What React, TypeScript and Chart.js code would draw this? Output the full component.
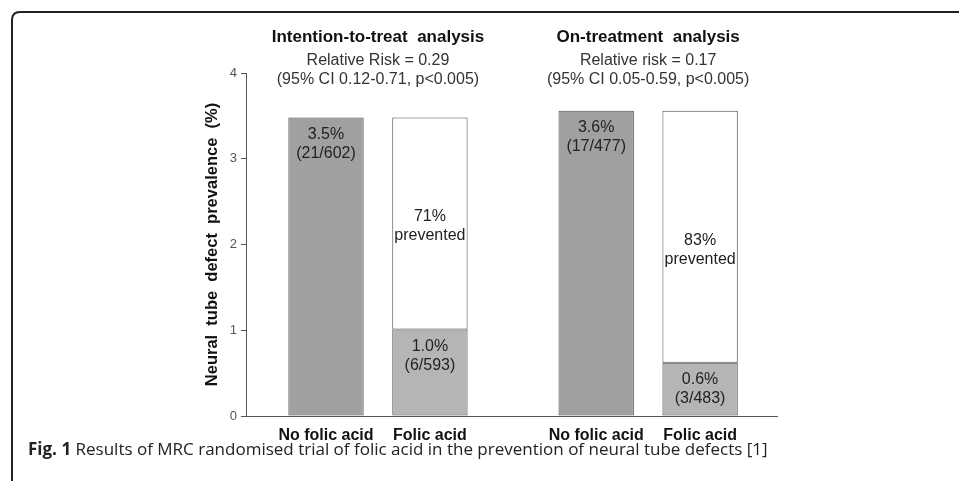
import React, { useEffect, useRef } from "react";
import { Chart, registerables } from "chart.js";

Chart.register(...registerables);

// ---- data ----
const categories = ["No folic acid", "Folic acid", "No folic acid", "Folic acid"];
const xPositions = [1, 2, 3.6, 4.6];
const defectPrevalence = [3.48, 1.01, 3.56, 0.62];
const preventedPortion = [0, 2.47, 0, 2.94];
const defectLabels = [
  ["3.5%", "(21/602)"],
  ["1.0%", "(6/593)"],
  ["3.6%", "(17/477)"],
  ["0.6%", "(3/483)"],
];
const preventedLabels = [null, ["71%", "prevented"], null, ["83%", "prevented"]];
const preventedLabelValue = [null, 2.22, null, 1.94];
const groupCenters = [1.5, 4.1];
const groupTitles = ["Intention-to-treat  analysis", "On-treatment  analysis"];
const groupSubtitles = [
  ["Relative Risk = 0.29", "(95% CI 0.12-0.71, p<0.005)"],
  ["Relative risk = 0.17", "(95% CI 0.05-0.59, p<0.005)"],
];
const barColors = ["#a0a0a0", "#b5b5b5", "#a0a0a0", "#b5b5b5"];
const yTickValues = [0, 1, 2, 3, 4];
const yAxisTitle = "Neural  tube  defect  prevalence  (%)";

const FONT = '"Liberation Sans", Arial, sans-serif';

const annotationPlugin = {
  id: "barAnnotations",
  afterDatasetsDraw(chart: any) {
    const { ctx, chartArea } = chart;
    const x = chart.scales.x;
    const y = chart.scales.y;
    ctx.save();
    ctx.textAlign = "center";
    ctx.textBaseline = "middle";
    ctx.fillStyle = "#222";
    ctx.font = `16px ${FONT}`;
    const meta0 = chart.getDatasetMeta(0);
    meta0.data.forEach((bar: any, i: number) => {
      const [a, b] = defectLabels[i];
      ctx.fillText(a, bar.x, bar.y + 17);
      ctx.fillText(b, bar.x, bar.y + 36);
    });
    preventedLabels.forEach((lab, i) => {
      if (!lab) return;
      const cx = x.getPixelForValue(xPositions[i]);
      const cy = y.getPixelForValue(preventedLabelValue[i] as number);
      ctx.fillText(lab[0], cx, cy - 9.5);
      ctx.fillText(lab[1], cx, cy + 9.5);
    });
    groupCenters.forEach((g, i) => {
      const cx = x.getPixelForValue(g);
      ctx.font = `bold 17px ${FONT}`;
      ctx.fillStyle = "#111";
      ctx.fillText(groupTitles[i], cx, chartArea.top - 36);
      ctx.font = `16px ${FONT}`;
      ctx.fillStyle = "#333";
      ctx.fillText(groupSubtitles[i][0], cx, chartArea.top - 12);
      ctx.fillText(groupSubtitles[i][1], cx, chartArea.top + 7);
    });
    ctx.restore();
  },
};

function BarChart() {
  const ref = useRef<HTMLCanvasElement | null>(null);
  useEffect(() => {
    if (!ref.current) return;
    Chart.defaults.font.family = FONT;
    const chart = new Chart(ref.current, {
      type: "bar",
      data: {
        datasets: [
          {
            label: "Defect",
            data: xPositions.map((xv, i) => ({ x: xv, y: defectPrevalence[i] })),
            backgroundColor: barColors,
            borderColor: "#4a4a4a",
            borderWidth: 1,
            borderSkipped: false,
            categoryPercentage: 1,
            barPercentage: 0.725,
          },
          {
            label: "Prevented",
            data: xPositions.map((xv, i) => ({ x: xv, y: preventedPortion[i] })),
            backgroundColor: "#ffffff",
            borderColor: "#4a4a4a",
            borderWidth: preventedPortion.map((v) => (v > 0 ? 1 : 0)),
            borderSkipped: false,
            categoryPercentage: 1,
            barPercentage: 0.725,
          },
        ],
      } as any,
      options: {
        animation: false,
        responsive: false,
        maintainAspectRatio: false,
        layout: { padding: { left: 200, right: 182, top: 73, bottom: 0 } },
        plugins: {
          legend: { display: false },
          tooltip: { enabled: false },
        },
        scales: {
          x: {
            type: "linear",
            stacked: true,
            min: 0.23,
            max: 5.34,
            offset: false,
            afterFit: (s: any) => {
              s.height = 44;
            },
            afterBuildTicks: (s: any) => {
              s.ticks = xPositions.map((v) => ({ value: v }));
            },
            grid: { display: false },
            border: { display: true, color: "#555", width: 1 },
            ticks: {
              autoSkip: false,
              maxRotation: 0,
              padding: 2,
              color: "#111",
              font: { size: 16, weight: "bold", family: FONT },
              callback: (_v: any, i: number) => categories[i],
            },
          },
          y: {
            stacked: true,
            min: 0,
            max: 4,
            afterFit: (s: any) => {
              s.width = 46;
            },
            afterBuildTicks: (s: any) => {
              s.ticks = yTickValues.map((v) => ({ value: v }));
            },
            grid: {
              drawOnChartArea: false,
              drawTicks: true,
              tickLength: 5,
              color: "#555",
            },
            border: { display: true, color: "#555", width: 1 },
            ticks: {
              padding: 4,
              color: "#555",
              font: { size: 13, family: FONT },
            },
            title: {
              display: true,
              text: yAxisTitle,
              color: "#111",
              font: { size: 16.5, weight: "bold", family: FONT },
              padding: { top: 3, bottom: 3 },
            },
          },
        },
      } as any,
      plugins: [annotationPlugin],
    });
    return () => chart.destroy();
  }, []);
  return (
    <canvas
      ref={ref}
      width={959}
      height={460}
      style={{ position: "absolute", left: 0, top: 0, width: 959, height: 460 }}
    />
  );
}

export default function App() {
  return (
    <div
      style={{
        position: "fixed",
        left: 0,
        top: 0,
        width: 959,
        height: 481,
        overflow: "hidden",
        background: "#fff",
      }}
    >
      <svg
        width={959}
        height={481}
        style={{ position: "absolute", left: 0, top: 0 }}
      >
        <path
          d="M 12 481 L 12 20 Q 12 12 20 12 L 959 12"
          fill="none"
          stroke="#222"
          strokeWidth={2}
        />
      </svg>
      <BarChart />
      <div
        style={{
          position: "absolute",
          left: 28,
          top: 437,
          fontFamily: '"Open Sans", "Noto Sans", sans-serif',
          fontSize: 17,
          lineHeight: "24px",
          color: "#222",
          whiteSpace: "nowrap",
        }}
      >
        <b>Fig. 1</b> Results of MRC randomised trial of folic acid in the prevention of neural tube defects [1]
      </div>
    </div>
  );
}
